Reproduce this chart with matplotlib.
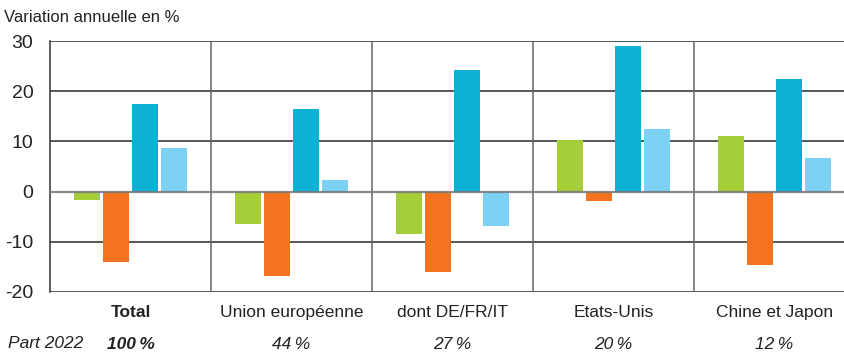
import numpy as np
import matplotlib
matplotlib.use("Agg")
import matplotlib.pyplot as plt

plt.rcParams['font.family'] = ['Liberation Sans Narrow', 'Liberation Sans', 'DejaVu Sans']

# Variation annuelle (%) par zone, quatre séries par groupe
categories = ["Total", "Union européenne", "dont DE/FR/IT", "Etats-Unis", "Chine et Japon"]
parts = ["100\u2009%", "44\u2009%", "27\u2009%", "20\u2009%", "12\u2009%"]
serie_verte = [-1.6, -6.5, -8.5, 10.3, 11.0]
serie_orange = [-14.1, -16.8, -16.1, -1.8, -14.6]
serie_bleue = [17.4, 16.5, 24.2, 29.1, 22.4]
serie_bleu_clair = [8.6, 2.3, -6.9, 12.5, 6.7]

series = [serie_verte, serie_orange, serie_bleue, serie_bleu_clair]
couleurs = ["#A6CE39", "#F37321", "#0EB1D6", "#7DD1F5"]
decalages = [-0.270, -0.090, 0.090, 0.270]
largeur = 0.161

fig = plt.figure(figsize=(8.45, 3.54), dpi=100)
ax = fig.add_axes([50 / 845, 1 - 292 / 354, 795 / 845, 251 / 354])

centres = np.arange(len(categories)) + 0.5
for vals, col, dx in zip(series, couleurs, decalages):
    ax.bar(centres + dx, vals, width=largeur, color=col, zorder=3)

ax.set_xlim(0, 795 / 161)
ax.set_ylim(-20, 30)
ax.set_yticks([-20, -10, 0, 10, 20, 30])
ax.set_yticklabels(["-20", "-10", "0", "10", "20", "30"], fontsize=14, color="#222222")
ax.tick_params(axis="y", length=0, pad=12)
ax.set_xticks([])

# grille horizontale sous les barres, ligne du zéro par-dessus
for y in [-20, -10, 10, 20, 30]:
    ax.axhline(y, color="#2a2a2a", lw=1.1, zorder=1)
ax.axhline(0, color="#777777", lw=1.6, alpha=0.85, zorder=4)

# séparateurs verticaux entre zones
for x in range(1, len(categories)):
    ax.axvline(x, color="#666666", lw=1.1, zorder=1)

for s in ["top", "right", "bottom"]:
    ax.spines[s].set_visible(False)
ax.spines["left"].set_color("#333333")
ax.spines["left"].set_linewidth(1.1)

# libellés des zones et parts 2022
for i, (cat, part) in enumerate(zip(categories, parts)):
    poids = "bold" if i == 0 else "normal"
    ax.text(centres[i], -24.0, cat, ha="center", va="center", fontsize=12.5,
            fontweight=poids, color="#222222")
    ax.text(centres[i], -30.4, part, ha="center", va="center", fontsize=12.5,
            fontweight=poids, style="italic", color="#222222")

fig.text(8 / 845, 1 - 344 / 354, "Part 2022", ha="left", va="center",
         fontsize=12.5, style="italic", color="#222222")
fig.text(4 / 845, 1 - 18 / 354, "Variation annuelle en %", ha="left", va="center",
         fontsize=12, color="#222222")

fig.savefig("out.png", dpi=100)
